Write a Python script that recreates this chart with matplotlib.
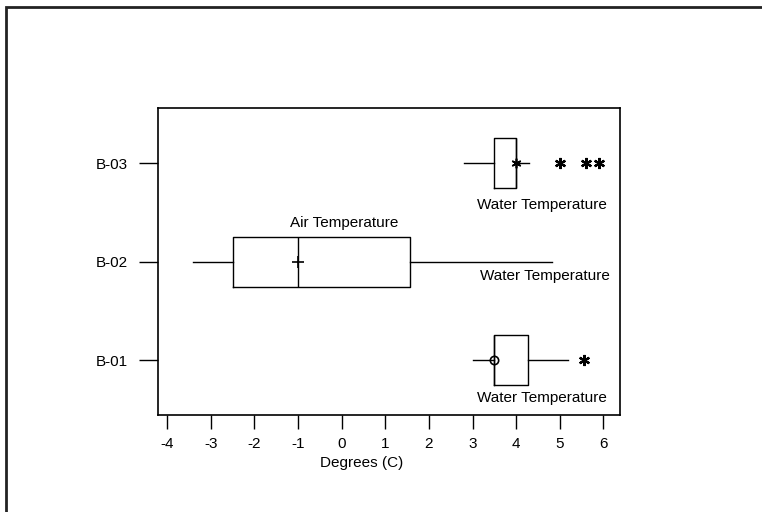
import matplotlib.pyplot as plt
from matplotlib.patches import Rectangle

plt.rcParams['font.family'] = ['Liberation Sans', 'DejaVu Sans']
plt.rcParams['font.size'] = 11
plt.rcParams['axes.unicode_minus'] = False

sites = ["B-01", "B-02", "B-03"]
ypos = [1, 2, 3]

# five-number summaries per site
whis_lo = [3.0, -3.4, 2.8]
q1 = [3.5, -2.5, 3.5]
median = [3.5, -1.0, 4.0]
q3 = [4.28, 1.57, 4.0]
whis_hi = [5.2, 4.82, 4.3]
means = [3.5, -1.0, 4.0]
outliers = [[5.55], [], [5.0, 5.6, 5.9]]

asterisk = (6, 2, 0)
mean_marks = ['o', '+', asterisk]
mean_sizes = [6, 8, 7]

labels = [
    ("Water Temperature", 6.08, 0.615, 'right'),
    ("Air Temperature", 0.05, 2.39, 'center'),
    ("Water Temperature", 6.15, 1.85, 'right'),
    ("Water Temperature", 6.08, 2.575, 'right'),
]

fig = plt.figure(figsize=(7.62, 5.12), dpi=100)
ax = fig.add_axes([0.2073, 0.19, 0.606, 0.599])

for i in range(3):
    stats = [dict(med=median[i], q1=q1[i], q3=q3[i], whislo=whis_lo[i],
                  whishi=whis_hi[i], mean=means[i], fliers=outliers[i])]
    ax.bxp(stats, positions=[ypos[i]], vert=False, widths=0.51,
           showmeans=True, showcaps=False,
           boxprops=dict(color='black', linewidth=1.0),
           whiskerprops=dict(color='black', linewidth=1.0),
           medianprops=dict(color='black', linewidth=1.0),
           meanprops=dict(marker=mean_marks[i], markerfacecolor='none',
                          markeredgecolor='black', markersize=mean_sizes[i],
                          markeredgewidth=1.2),
           flierprops=dict(marker=asterisk, markeredgecolor='black',
                           markersize=8, markeredgewidth=1.6))

for txt, x, y, ha in labels:
    ax.text(x, y, txt, ha=ha, va='center', fontsize=11)

ax.set_xlim(-4.213, 6.376)
ax.set_ylim(0.444, 3.562)
ax.set_xticks(range(-4, 7))
ax.set_yticks(ypos)
ax.set_yticklabels(sites)
ax.tick_params(axis='x', direction='out', length=10, width=1, pad=6)
ax.tick_params(axis='y', direction='out', length=14, width=1, pad=8)
for s in ax.spines.values():
    s.set_linewidth(1.2)

ax.set_xlabel("Degrees (C)", fontsize=11)
ax.xaxis.set_label_coords(0.442, -0.135)

# outer border of the page
fig.patches.append(Rectangle((0.0085, -0.1), 1.2, 1.087, transform=fig.transFigure,
                             fill=False, edgecolor='#222222', linewidth=2))

fig.savefig("out.png", dpi=100)
